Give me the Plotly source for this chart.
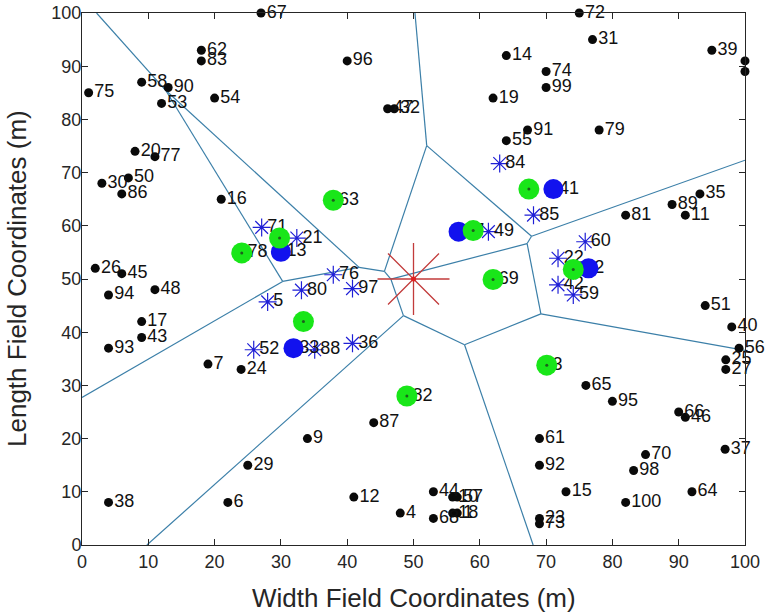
import numpy as np
import plotly.graph_objects as go

# ---------------- data ----------------
node_labels = ["67","62","83","58","90","75","53","54","20","77","30","50","86","16","96","47","32",
               "14","19","55","91","72","31","74","99","79","39","28","34","35","89","11","81","51",
               "40","56","25","27","26","45","94","48","17","43","93","7","24","29","6","38","9",
               "87","12","4","44","10","57","68","18","1","61","92","15","23","73","100","98","70",
               "64","37","66","46","65","95"]
node_x = [27,18,18,9,13,1,12,20,8,11,3,7,6,21,40,46.1,47.1,
          64,62,64,67.2,75,77,70,70,78,95,100,100,93.2,89,91,82,94,
          98,99.1,97.1,97.1,2,6,4,11,9,9,4,19,24,25,22,4,34,
          44,41,48,53,55.9,56.6,53,55.9,56.6,69,69,73,69,69,82,83.2,85,
          92,97,90,91,76,80]
node_y = [100,93,91,87,86,85,83,84,74,73,68,69,66,65,91,82,82,
          92,84,76,78,100,95,89,86,78,93,91,89,66,64,62,62,45,
          41,37,34.8,33,52,51,47,48,42,39,37,34,33,15,8,8,20,
          23,9,6,10,9,9,5,6,6,20,15,10,5,4,8,14,17,
          10,18,25,24,30,27]

star_labels = ["71","21","5","80","76","97","36","52","88","84","85","49","60","22","42","59"]
star_x = [27.1,32.4,28,33.1,37.9,40.8,40.8,25.9,35.1,63,68.1,61.3,75.9,71.8,71.8,74.1]
star_y = [59.7,57.7,45.7,47.9,50.8,48.2,37.9,36.7,36.7,71.7,62,58.9,57,53.9,48.9,47]

blue_labels = ["13","33","17","41","2"]
blue_x = [30,31.9,56.8,71.1,76.4]
blue_y = [55.1,37,58.9,66.9,52]

green_labels = ["63","78","","","82","69","","","","3"]
green_x = [37.9,24.1,29.8,33.4,49,62,59,67.4,74.1,70.1]
green_y = [64.8,54.9,57.7,42,28,49.9,59.1,66.9,51.8,33.8]

sink_x = [50]
sink_y = [50]

x_ticks = list(range(0, 101, 10))
y_ticks = list(range(0, 101, 10))

x_title = "Width Field Coordinates (m)"
y_title = "Length Field Coordinates (m)"

# ---------------- style ----------------
FONT = "Liberation Sans, Arial, Helvetica, sans-serif"
LABEL_DX = 0.85
LINE_COL = "#3b7fa8"
STAR_COL = "#1f1fd6"
SINK_COL = "#c23b3b"
AX_COL = "#262626"


def voronoi_edges(xs, ys, lo=0.0, hi=100.0):
    P = np.column_stack([xs, ys]).astype(float)
    n = len(P)
    ex, ey = [], []
    for i in range(n):
        for j in range(i + 1, n):
            m = (P[i] + P[j]) / 2
            d = P[j] - P[i]
            u = np.array([-d[1], d[0]])
            cons = []
            for k in range(n):
                if k in (i, j):
                    continue
                a_vec = 2 * (P[k] - P[i])
                rhs = P[k] @ P[k] - P[i] @ P[i]
                cons.append((a_vec @ u, rhs - a_vec @ m))
            for dim in (0, 1):
                cons.append((u[dim], hi - m[dim]))
                cons.append((-u[dim], m[dim] - lo))
            tmin, tmax, ok = -1e9, 1e9, True
            for a, b in cons:
                if abs(a) < 1e-12:
                    if b < 0:
                        ok = False
                        break
                elif a > 0:
                    tmax = min(tmax, b / a)
                else:
                    tmin = max(tmin, b / a)
            if ok and tmax - tmin > 1e-9:
                p0 = m + tmin * u
                p1 = m + tmax * u
                ex += [p0[0], p1[0], None]
                ey += [p0[1], p1[1], None]
    return ex, ey


vx, vy = voronoi_edges(green_x, green_y)

fig = go.Figure()
fig.add_trace(go.Scatter(x=vx, y=vy, mode="lines",
                         line=dict(color=LINE_COL, width=1.2), hoverinfo="skip"))

fig.add_trace(go.Scatter(x=node_x, y=node_y, mode="markers",
                         marker=dict(size=9, color="#0a0a0a"), cliponaxis=False, hoverinfo="skip"))

fig.add_trace(go.Scatter(x=star_x, y=star_y, mode="markers",
                         marker=dict(symbol="asterisk-open", size=15, color=STAR_COL,
                                     line=dict(color=STAR_COL, width=1.2)),
                         cliponaxis=False, hoverinfo="skip"))

all_lx = [v + LABEL_DX for v in node_x + star_x + blue_x + green_x]
all_ly = node_y + star_y + blue_y + green_y
all_lt = node_labels + star_labels + blue_labels + green_labels
fig.add_trace(go.Scatter(x=all_lx, y=all_ly, mode="text", text=all_lt,
                         textposition="middle right",
                         textfont=dict(family=FONT, size=18, color="#111111"),
                         cliponaxis=False, hoverinfo="skip"))

fig.add_trace(go.Scatter(x=blue_x, y=blue_y, mode="markers",
                         marker=dict(size=20, color="#1212ee"), cliponaxis=False, hoverinfo="skip"))

fig.add_trace(go.Scatter(x=green_x, y=green_y, mode="markers",
                         marker=dict(size=21, color="#19e619"), cliponaxis=False, hoverinfo="skip"))
fig.add_trace(go.Scatter(x=green_x, y=green_y, mode="markers",
                         marker=dict(size=3, color="#1d5e1d"), cliponaxis=False, hoverinfo="skip"))

fig.add_trace(go.Scatter(x=sink_x, y=sink_y, mode="markers",
                         marker=dict(symbol="asterisk-open", size=60, color=SINK_COL,
                                     line=dict(color=SINK_COL, width=1.3)),
                         cliponaxis=False, hoverinfo="skip"))
fig.add_trace(go.Scatter(x=sink_x, y=sink_y, mode="markers",
                         marker=dict(size=5, color="#e02020"), cliponaxis=False, hoverinfo="skip"))

axis_common = dict(range=[0, 100], showgrid=False, zeroline=False, showline=True,
                   mirror="ticks", linecolor=AX_COL, linewidth=1,
                   ticks="inside", ticklen=6, tickcolor=AX_COL, automargin=False,
                   tickfont=dict(family=FONT, size=18, color=AX_COL))

fig.update_layout(
    width=765, height=613,
    margin=dict(l=82, r=20, t=13, b=68),
    paper_bgcolor="white", plot_bgcolor="white",
    showlegend=False,
    xaxis=dict(axis_common, tickvals=x_ticks),
    yaxis=dict(axis_common, tickvals=y_ticks, ticklabelstandoff=-4),
    annotations=[
        dict(text=x_title, xref="paper", yref="paper", x=0.5, y=0,
             xanchor="center", yanchor="middle", yshift=-53, showarrow=False,
             font=dict(family=FONT, size=26, color=AX_COL)),
        dict(text=y_title, xref="paper", yref="paper", x=0, y=0.5, textangle=-90,
             xanchor="center", yanchor="middle", xshift=-65, showarrow=False,
             font=dict(family=FONT, size=26, color=AX_COL)),
    ],
)

fig.write_html("out.html")
